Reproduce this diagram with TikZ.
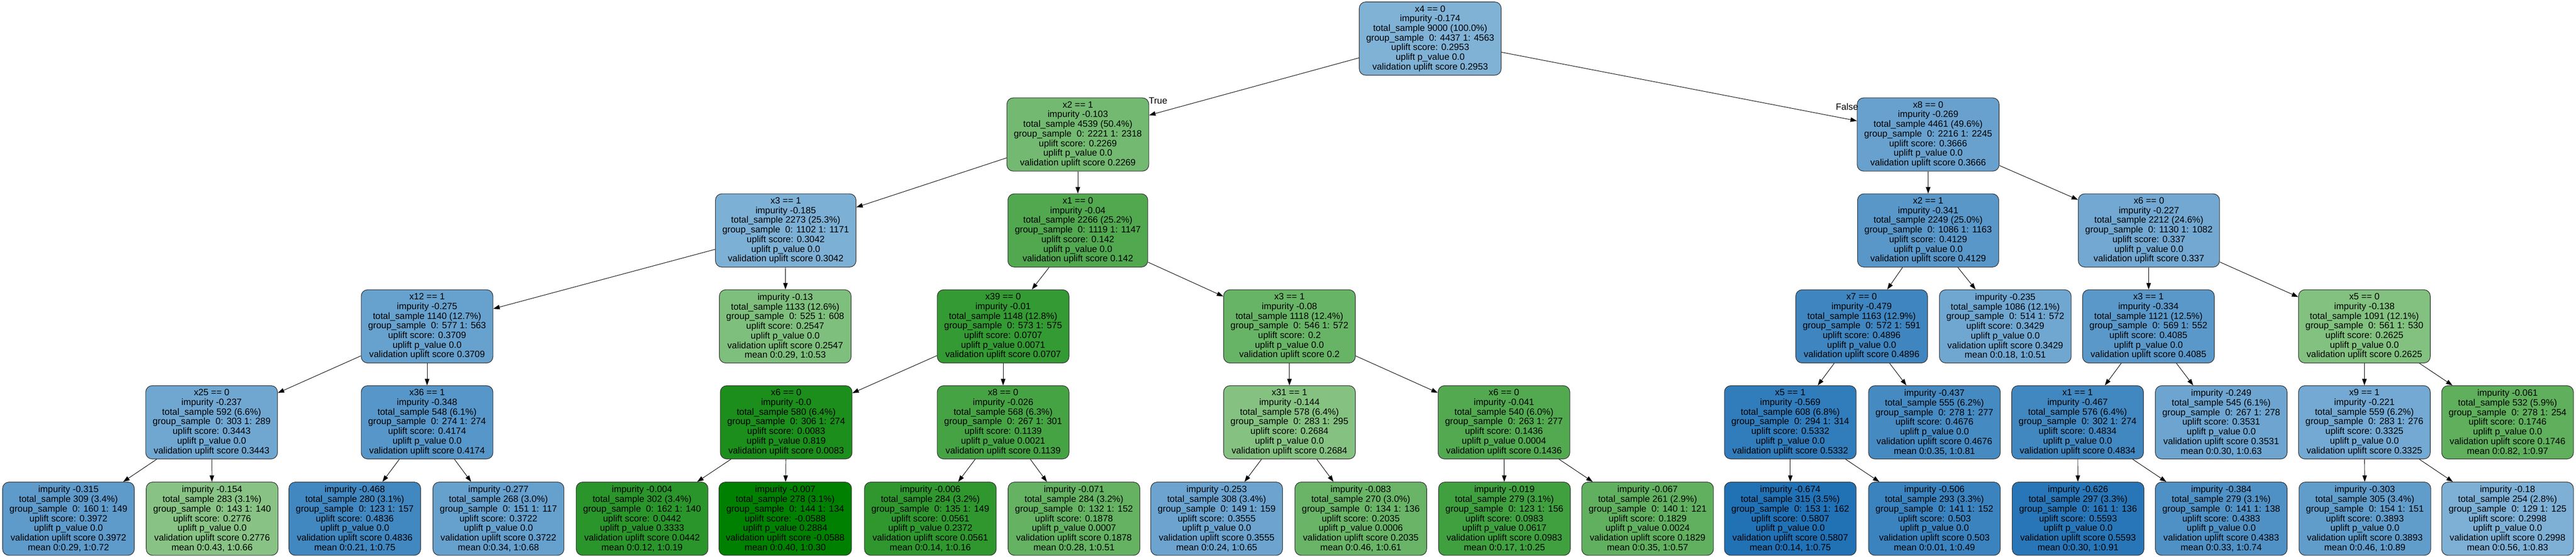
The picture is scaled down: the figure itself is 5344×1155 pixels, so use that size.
\documentclass[tikz,border=0pt]{standalone}
\usepackage{fontspec}
\setmainfont{Liberation Sans}
\usetikzlibrary{arrows.meta}
\definecolor{ltb}{RGB}{133,181,216}
\definecolor{dkb}{RGB}{33,113,181}
\definecolor{ltg}{RGB}{137,196,134}
\definecolor{dkg}{RGB}{0,128,0}
\newcommand{\nd}[6]{#1\\impurity #2\\total\_sample #3\\group\_sample~ #4\\uplift score: #5\\uplift p\_value #6\\validation uplift score #5}
\newcommand{\lf}[6]{impurity #1\\total\_sample #2\\group\_sample~ #3\\uplift score: #4\\uplift p\_value #5\\validation uplift score #4\\mean #6}
\begin{document}
\begin{tikzpicture}[x=0.75pt,y=-0.75pt,
 box/.style={draw=black!80, line width=0.9pt, rounded corners=10pt, align=center,
   minimum height=114pt, inner xsep=10.8pt, inner ysep=0pt,
   font=\fontsize{14.2}{15}\selectfont},
 B/.style={box, fill=dkb!#1!ltb},
 G/.style={box, fill=dkg!#1!ltg},
 edge/.style={line width=0.75pt, -{Triangle[length=10pt,width=7pt]}},
 lbl/.style={font=\fontsize{14.2}{15}\selectfont, inner sep=0pt}]
\useasboundingbox[fill=white] (0,0) rectangle (5344,1155);
% level 0
\node[B=5] (r) at (2967,80) {\nd{x4 == 0}{-0.174}{9000 (100.0\%)}{0: 4437 1: 4563}{0.2953}{0.0}};
% level 1
\node[G=16] (a) at (2236,279) {\nd{x2 == 1}{-0.103}{4539 (50.4\%)}{0: 2221 1: 2318}{0.2269}{0.0}};
\node[B=29] (b) at (4000,279) {\nd{x8 == 0}{-0.269}{4461 (49.6\%)}{0: 2216 1: 2245}{0.3666}{0.0}};
% level 2
\node[B=8] (c) at (1630,478) {\nd{x3 == 1}{-0.185}{2273 (25.3\%)}{0: 1102 1: 1171}{0.3042}{0.0}};
\node[G=41] (d) at (2236,478) {\nd{x1 == 0}{-0.04}{2266 (25.2\%)}{0: 1119 1: 1147}{0.142}{0.0}};
\node[B=44] (e) at (4000,478) {\nd{x2 == 1}{-0.341}{2249 (25.0\%)}{0: 1086 1: 1163}{0.4129}{0.0}};
\node[B=19] (f) at (4458,478) {\nd{x6 == 0}{-0.227}{2212 (24.6\%)}{0: 1130 1: 1082}{0.337}{0.0}};
% level 3
\node[B=30] (g) at (886,677) {\nd{x12 == 1}{-0.275}{1140 (12.7\%)}{0: 577 1: 563}{0.3709}{0.0}};
\node[G=7] (h) at (1629,677) {\lf{-0.13}{1133 (12.6\%)}{0: 525 1: 608}{0.2547}{0.0}{0:0.29, 1:0.53}};
\node[G=62] (i) at (2081,677) {\nd{x39 == 0}{-0.01}{1148 (12.8\%)}{0: 573 1: 575}{0.0707}{0.0071}};
\node[G=24] (j) at (2675,677) {\nd{x3 == 1}{-0.08}{1118 (12.4\%)}{0: 546 1: 572}{0.2}{0.0}};
\node[B=70] (k) at (3862,677) {\nd{x7 == 0}{-0.479}{1163 (12.9\%)}{0: 572 1: 591}{0.4896}{0.0}};
\node[B=21] (l) at (4160,677) {\lf{-0.235}{1086 (12.1\%)}{0: 514 1: 572}{0.3429}{0.0}{0:0.18, 1:0.51}};
\node[B=43] (m) at (4457,677) {\nd{x3 == 1}{-0.334}{1121 (12.5\%)}{0: 569 1: 552}{0.4085}{0.0}};
\node[G=5] (n) at (4905,677) {\nd{x5 == 0}{-0.138}{1091 (12.1\%)}{0: 561 1: 530}{0.2625}{0.0}};
% level 4
\node[B=21] (o) at (439,876) {\nd{x25 == 0}{-0.237}{592 (6.6\%)}{0: 303 1: 289}{0.3443}{0.0}};
\node[B=46] (p) at (886,876) {\nd{x36 == 1}{-0.348}{548 (6.1\%)}{0: 274 1: 274}{0.4174}{0.0}};
\node[G=80] (q) at (1631,876) {\nd{x6 == 0}{-0.0}{580 (6.4\%)}{0: 306 1: 274}{0.0083}{0.819}};
\node[G=49] (s) at (2081,876) {\nd{x8 == 0}{-0.026}{568 (6.3\%)}{0: 267 1: 301}{0.1139}{0.0021}};
\node[G=3] (t) at (2675,876) {\nd{x31 == 1}{-0.144}{578 (6.4\%)}{0: 283 1: 295}{0.2684}{0.0}};
\node[G=40] (u) at (3120,876) {\nd{x6 == 0}{-0.041}{540 (6.0\%)}{0: 263 1: 277}{0.1436}{0.0004}};
\node[B=84] (v) at (3714,876) {\nd{x5 == 1}{-0.569}{608 (6.8\%)}{0: 294 1: 314}{0.5332}{0.0}};
\node[B=63] (w) at (4013,876) {\lf{-0.437}{555 (6.2\%)}{0: 278 1: 277}{0.4676}{0.0}{0:0.35, 1:0.81}};
\node[B=68] (xa) at (4310,876) {\nd{x1 == 1}{-0.467}{576 (6.4\%)}{0: 302 1: 274}{0.4834}{0.0}};
\node[B=24] (y) at (4608,876) {\lf{-0.249}{545 (6.1\%)}{0: 267 1: 278}{0.3531}{0.0}{0:0.30, 1:0.63}};
\node[B=18] (z) at (4905,876) {\nd{x9 == 1}{-0.221}{559 (6.2\%)}{0: 283 1: 276}{0.3325}{0.0}};
\node[G=31] (zb) at (5202,876) {\lf{-0.061}{532 (5.9\%)}{0: 278 1: 254}{0.1746}{0.0}{0:0.82, 1:0.97}};
% level 5
\node[B=39] (L1) at (142,1076) {\lf{-0.315}{309 (3.4\%)}{0: 160 1: 149}{0.3972}{0.0}{0:0.29, 1:0.72}};
\node[G=1] (L2) at (440,1076) {\lf{-0.154}{283 (3.1\%)}{0: 143 1: 140}{0.2776}{0.0}{0:0.43, 1:0.66}};
\node[B=68] (L3) at (736,1076) {\lf{-0.468}{280 (3.1\%)}{0: 123 1: 157}{0.4836}{0.0}{0:0.21, 1:0.75}};
\node[B=31] (L4) at (1034,1076) {\lf{-0.277}{268 (3.0\%)}{0: 151 1: 117}{0.3722}{0.0}{0:0.34, 1:0.68}};
\node[G=69] (L5) at (1332,1076) {\lf{-0.004}{302 (3.4\%)}{0: 162 1: 140}{0.0442}{0.3333}{0:0.12, 1:0.19}};
\node[G=100] (L6) at (1629,1076) {\lf{-0.007}{278 (3.1\%)}{0: 144 1: 134}{-0.0588}{0.2884}{0:0.40, 1:0.30}};
\node[G=66] (L7) at (1930,1076) {\lf{-0.006}{284 (3.2\%)}{0: 135 1: 149}{0.0561}{0.2372}{0:0.14, 1:0.16}};
\node[G=27] (L8) at (2228,1076) {\lf{-0.071}{284 (3.2\%)}{0: 132 1: 152}{0.1878}{0.0007}{0:0.28, 1:0.51}};
\node[B=25] (L9) at (2524,1076) {\lf{-0.253}{308 (3.4\%)}{0: 149 1: 159}{0.3555}{0.0}{0:0.24, 1:0.65}};
\node[G=23] (L10) at (2823,1076) {\lf{-0.083}{270 (3.0\%)}{0: 134 1: 136}{0.2035}{0.0006}{0:0.46, 1:0.61}};
\node[G=53] (L11) at (3121,1076) {\lf{-0.019}{279 (3.1\%)}{0: 123 1: 156}{0.0983}{0.0617}{0:0.17, 1:0.25}};
\node[G=29] (L12) at (3418,1076) {\lf{-0.067}{261 (2.9\%)}{0: 140 1: 121}{0.1829}{0.0024}{0:0.35, 1:0.57}};
\node[B=100] (L13) at (3714,1076) {\lf{-0.674}{315 (3.5\%)}{0: 153 1: 162}{0.5807}{0.0}{0:0.14, 1:0.75}};
\node[B=74] (L14) at (4013,1076) {\lf{-0.506}{293 (3.3\%)}{0: 141 1: 152}{0.503}{0.0}{0:0.01, 1:0.49}};
\node[B=93] (L15) at (4311,1076) {\lf{-0.626}{297 (3.3\%)}{0: 161 1: 136}{0.5593}{0.0}{0:0.30, 1:0.91}};
\node[B=53] (L16) at (4608,1076) {\lf{-0.384}{279 (3.1\%)}{0: 141 1: 138}{0.4383}{0.0}{0:0.33, 1:0.74}};
\node[B=36] (L17) at (4906,1076) {\lf{-0.303}{305 (3.4\%)}{0: 154 1: 151}{0.3893}{0.0}{0:0.46, 1:0.89}};
\node[B=7] (L18) at (5202,1076) {\lf{-0.18}{254 (2.8\%)}{0: 129 1: 125}{0.2998}{0.0}{0:0.56, 1:0.83}};
% edges
\foreach \p/\c in {r/a,r/b,a/c,a/d,b/e,b/f,c/g,c/h,d/i,d/j,e/k,e/l,f/m,f/n,
  g/o,g/p,i/q,i/s,j/t,j/u,k/v,k/w,m/xa,m/y,n/z,n/zb,
  o/L1,o/L2,p/L3,p/L4,q/L5,q/L6,s/L7,s/L8,t/L9,t/L10,u/L11,u/L12,
  v/L13,v/L14,xa/L15,xa/L16,z/L17,z/L18}
  \draw[edge] (\p) -- (\c);
\node[lbl, anchor=base west] (tl) at (2383,215) {True};
\node[lbl, anchor=base east] (fl) at (3855,228) {False};
\end{tikzpicture}
\end{document}
